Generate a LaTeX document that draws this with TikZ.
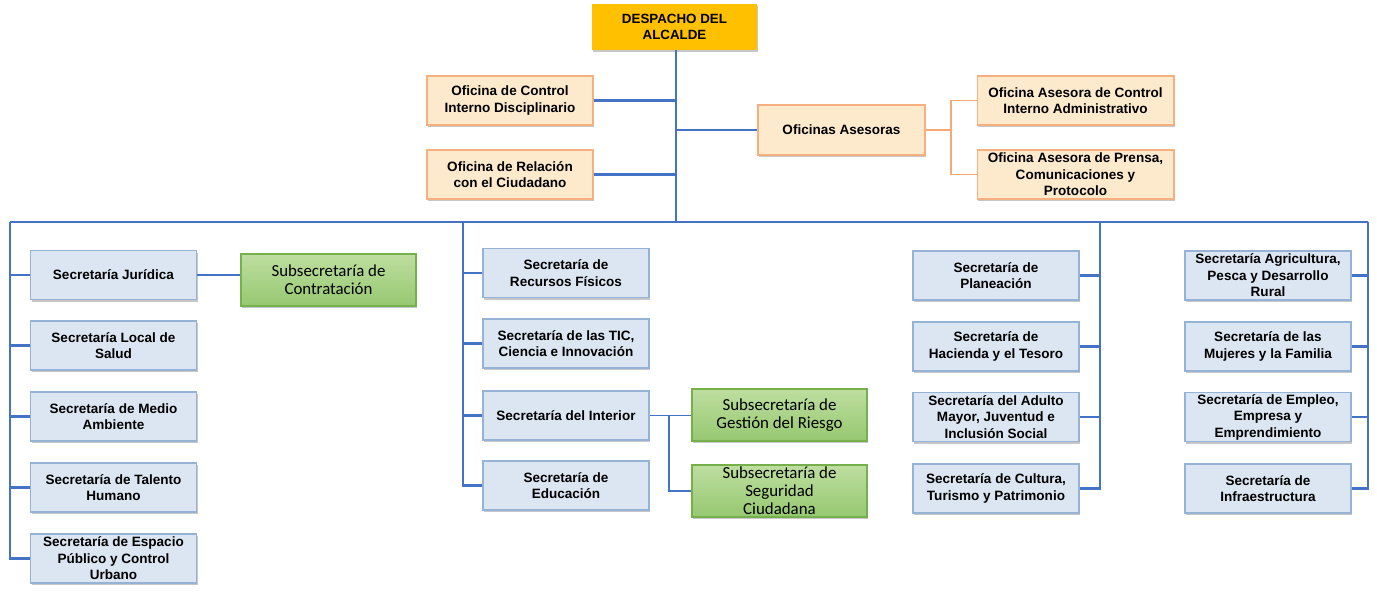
\documentclass[tikz,border=0pt]{standalone}
\usepackage{fontspec}
\setmainfont{Liberation Sans}
\newfontfamily\calfont{Carlito}
\usetikzlibrary{shadows}
\definecolor{linea}{RGB}{68,114,196}
\definecolor{lineanar}{RGB}{247,168,118}
\definecolor{secfondo}{RGB}{220,230,242}
\definecolor{secborde}{RGB}{149,179,215}
\definecolor{ofifondo}{RGB}{253,234,204}
\definecolor{ofiborde}{RGB}{246,176,128}
\definecolor{subarriba}{RGB}{190,222,160}
\definecolor{subabajo}{RGB}{150,200,112}
\definecolor{subborde}{RGB}{118,176,76}
\definecolor{jefefondo}{RGB}{255,192,0}

\begin{document}
\begin{tikzpicture}[x=0.02cm, y=-0.02cm,
  sombra/.style={drop shadow={shadow xshift=0.6pt, shadow yshift=-1.2pt, fill=black!40, opacity=0.55}},
  sec/.style={draw=secborde, fill=secfondo, line width=0.6pt, sombra, minimum width=3.32cm, minimum height=0.98cm, inner sep=0pt, align=center, font=\bfseries\fontsize{7.7}{9.4}\selectfont},
  ofi/.style={sec, draw=ofiborde, fill=ofifondo},
  ofiancho/.style={ofi, minimum width=3.94cm},
  sub/.style={draw=subborde, top color=subarriba, bottom color=subabajo, line width=0.6pt, sombra, minimum width=3.5cm, minimum height=1.04cm, inner sep=0pt, align=center, font=\calfont\fontsize{9.6}{10.2}\selectfont},
  jefe/.style={fill=jefefondo, sombra, minimum width=3.3cm, minimum height=0.92cm, inner sep=0pt, align=center, font=\bfseries\fontsize{7.6}{8.8}\selectfont},
  rama/.style={linea, line width=1.4pt},
  ramita/.style={linea, line width=0.8pt},
  ramanar/.style={lineanar, line width=0.8pt}]
\useasboundingbox (0,0) rectangle (1377,598);

% despacho y oficinas
\node[jefe] (desp) at (674.5,27) {DESPACHO DEL\\ALCALDE};
\node[ofi] (ocid) at (510,100.5) {Oficina de Control\\Interno Disciplinario};
\node[ofi] (orc) at (510,174.5) {Oficina de Relación\\con el Ciudadano};
\node[ofi, minimum width=3.34cm, minimum height=1cm] (oas) at (841.5,130) {Oficinas Asesoras};
\node[ofiancho] (oaci) at (1075.5,100.5) {Oficina Asesora de Control\\Interno Administrativo};
\node[ofiancho] (oapc) at (1075.5,174.5) {Oficina Asesora de Prensa,\\Comunicaciones y\\Protocolo};

% columna izquierda
\node[sec] (sjur) at (113.5,275) {Secretaría Jurídica};
\node[sec] (ssal) at (113.5,345.5) {Secretaría Local de\\Salud};
\node[sec] (smed) at (113.5,416.5) {Secretaría de Medio\\Ambiente};
\node[sec] (stal) at (113.5,487.5) {Secretaría de Talento\\Humano};
\node[sec] (sesp) at (113.5,558.5) {Secretaría de Espacio\\Público y Control\\Urbano};
\node[sub] (scon) at (328.5,280) {Subsecretaría de\\Contratación};

% columna central
\node[sec] (srec) at (566,273) {Secretaría de\\Recursos Físicos};
\node[sec] (stic) at (566,343.5) {Secretaría de las TIC,\\Ciencia e Innovación};
\node[sec] (sint) at (566,415.5) {Secretaría del Interior};
\node[sec] (sedu) at (566,485.5) {Secretaría de\\Educación};
\node[sub] (sgr) at (779.5,415) {Subsecretaría de\\Gestión del Riesgo};
\node[sub] (ssc) at (779.5,491) {Subsecretaría de\\Seguridad\\Ciudadana};

% columnas derechas
\node[sec] (spla) at (996,275.5) {Secretaría de\\Planeación};
\node[sec] (shac) at (996,346.5) {Secretaría de\\Hacienda y el Tesoro};
\node[sec] (sadu) at (996,417) {Secretaría del Adulto\\Mayor, Juventud e\\Inclusión Social};
\node[sec] (scul) at (996,488.5) {Secretaría de Cultura,\\Turismo y Patrimonio};
\node[sec] (sagr) at (1268,275.5) {Secretaría Agricultura,\\Pesca y Desarrollo\\Rural};
\node[sec] (smuj) at (1268,346.5) {Secretaría de las\\Mujeres y la Familia};
\node[sec] (semp) at (1268,417) {Secretaría de Empleo,\\Empresa y\\Emprendimiento};
\node[sec] (sinf) at (1268,488.5) {Secretaría de\\Infraestructura};

% barra de distribucion
\coordinate (tronco) at (676,222);
\coordinate (barraI) at (10,222);
\coordinate (barraC) at (463,222);
\coordinate (barraD) at (1100,222);
\coordinate (barraF) at (1368,222);
\coordinate (codoA) at (951,130);
\coordinate (codoI) at (669,415.5);

\draw[rama] (desp.south -| tronco) -- (tronco);
\draw[rama] (barraI) -- (barraF);
\draw[rama] (ocid.east) -- (ocid.east -| tronco);
\draw[rama] (orc.east) -- (orc.east -| tronco);
\draw[rama] (oas.west) -- (oas.west -| tronco);
\draw[ramanar] (oas.east) -- (codoA);
\draw[ramanar] (oaci.west) -| (codoA) |- (oapc.west);

\draw[rama] (barraI) |- (sesp.west);
\foreach \n in {sjur,ssal,smed,stal}
  \draw[rama] (\n.west) -- (\n.west -| barraI);
\draw[rama] (barraC) |- (sedu.west);
\foreach \n in {srec,stic,sint}
  \draw[rama] (\n.west) -- (\n.west -| barraC);
\draw[rama] (barraD) |- (scul.east);
\foreach \n in {spla,shac,sadu}
  \draw[rama] (\n.east) -- (\n.east -| barraD);
\draw[rama] (barraF) |- (sinf.east);
\foreach \n in {sagr,smuj,semp}
  \draw[rama] (\n.east) -- (\n.east -| barraF);

\draw[ramita] (sjur.east) -- (sjur.east -| scon.west);
\draw[ramita] (sint.east) -- (sint.east -| sgr.west);
\draw[ramita] (codoI) |- (ssc.west);
\end{tikzpicture}
\end{document}
